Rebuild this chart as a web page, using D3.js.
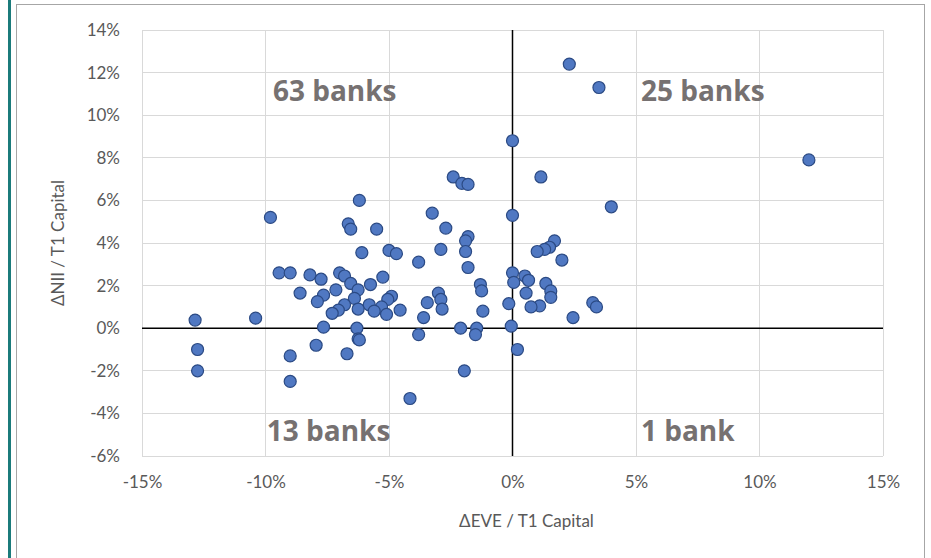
<!DOCTYPE html>
<html><head><meta charset="utf-8">
<script src="https://cdn.jsdelivr.net/npm/d3@7"></script>
<style>body{margin:0;background:#fff;}svg{display:block;}</style>
</head><body>
<svg id="c" width="931" height="558"></svg>
<script>
const xTicks = [-0.15,-0.10,-0.05,0,0.05,0.10,0.15];
const yTicks = [-0.06,-0.04,-0.02,0,0.02,0.04,0.06,0.08,0.10,0.12,0.14];
const eve = [2.3,3.5,0.0,12.0,1.15,-2.4,-2.05,-1.8,-6.2,4.0,-9.8,-3.25,0.0,-6.65,-6.55,-5.5,-2.7,-1.8,-1.9,1.7,1.5,1.3,1.0,-6.1,-5.0,-4.7,-2.9,-1.9,2.0,-3.8,-1.8,-9.45,-9.0,-8.2,-7.0,-6.8,0.0,-7.75,0.5,0.65,-6.55,-5.75,-5.25,-1.3,0.05,1.35,-8.6,-7.65,-7.15,-6.25,-4.9,-3.0,-2.9,-1.25,0.55,1.55,1.55,-7.9,-6.4,-5.05,-0.15,-3.45,-6.8,-5.8,-5.3,1.1,3.25,3.4,-7.05,-6.25,-5.6,-4.55,-2.85,-1.2,-7.3,-5.1,0.75,2.45,-12.85,-10.4,-3.6,-7.65,-6.3,-2.1,-1.45,-0.05,-3.8,-1.5,-6.25,-6.2,-7.95,-12.75,0.2,-6.7,-9.0,-12.75,-1.95,-9.0,-4.15];
const nii = [12.4,11.3,8.8,7.9,7.1,7.1,6.8,6.75,6.0,5.7,5.2,5.4,5.3,4.9,4.65,4.65,4.7,4.3,4.1,4.1,3.8,3.7,3.6,3.55,3.65,3.5,3.7,3.6,3.2,3.1,2.85,2.6,2.6,2.5,2.6,2.45,2.6,2.3,2.45,2.25,2.1,2.05,2.4,2.05,2.15,2.1,1.65,1.55,1.8,1.8,1.5,1.65,1.35,1.75,1.65,1.75,1.45,1.25,1.4,1.35,1.15,1.2,1.1,1.1,1.0,1.05,1.2,1.0,0.85,0.9,0.8,0.85,0.9,0.8,0.7,0.65,1.0,0.5,0.38,0.47,0.5,0.05,0.0,0.0,0.0,0.1,-0.3,-0.3,-0.5,-0.55,-0.8,-1.0,-1.0,-1.2,-1.3,-2.0,-2.0,-2.5,-3.3];
const quadLabels = ["63 banks","25 banks","13 banks","1 bank"];
const quadPos = [[-0.097,0.110],[0.052,0.110],[-0.0995,-0.0495],[0.052,-0.0495]];
const xTitle = "ΔEVE / T1 Capital";
const yTitle = "ΔNII / T1 Capital";

const svg = d3.select("#c");
const FONT = "Lato, 'Open Sans', sans-serif";
svg.append("rect").attr("x",8).attr("y",0).attr("width",3).attr("height",558).attr("fill","#1b7b7b");
svg.append("rect").attr("x",16.5).attr("y",4.5).attr("width",908).attr("height",560).attr("fill","#fff").attr("stroke","#a6a6a6");

const x = d3.scaleLinear().domain([-0.15,0.15]).range([142,883]);
const y = d3.scaleLinear().domain([-0.06,0.14]).range([456,30]);
const fmt = d => d3.format(".0%")(d).replace("\u2212","-");
const g = svg.append("g");
g.selectAll(".gx").data(xTicks).join("line").attr("x1",d=>x(d)).attr("x2",d=>x(d)).attr("y1",y(0.14)).attr("y2",y(-0.06)).attr("stroke","#d9d9d9").attr("stroke-width",1).attr("shape-rendering","crispEdges");
g.selectAll(".gy").data(yTicks).join("line").attr("y1",d=>y(d)).attr("y2",d=>y(d)).attr("x1",x(-0.15)).attr("x2",x(0.15)).attr("stroke","#d9d9d9").attr("stroke-width",1).attr("shape-rendering","crispEdges");
const ax = svg.append("g").attr("transform",`translate(0,${y(-0.06)})`).call(d3.axisBottom(x).tickValues(xTicks).tickFormat(fmt).tickSize(0).tickPadding(20));
const ay = svg.append("g").attr("transform",`translate(${x(-0.15)},0)`).call(d3.axisLeft(y).tickValues(yTicks).tickFormat(fmt).tickSize(0).tickPadding(22));
[ax,ay].forEach(a=>{a.select(".domain").remove();a.selectAll("text").attr("fill","#595959").style("font-family",FONT).style("font-size","17px");});
svg.append("line").attr("x1",x(-0.15)).attr("x2",x(0.15)).attr("y1",y(0)).attr("y2",y(0)).attr("stroke","#000").attr("stroke-width",1.5);
svg.append("line").attr("x1",x(0)).attr("x2",x(0)).attr("y1",y(0.14)).attr("y2",y(-0.06)).attr("stroke","#000").attr("stroke-width",1.5);
svg.selectAll(".ql").data(quadLabels).join("text").attr("x",(d,i)=>x(quadPos[i][0])).attr("y",(d,i)=>y(quadPos[i][1])).text(d=>d)
  .attr("fill","#767171").style("font-family","'Open Sans', Lato, sans-serif").style("font-weight","bold").style("font-size","28px").attr("dominant-baseline","middle");
const pts = eve.map((e,i)=>({x:e/100,y:nii[i]/100}));
svg.selectAll(".pt").data(pts).join("circle").attr("cx",d=>x(d.x)).attr("cy",d=>y(d.y)).attr("r",6)
  .attr("fill","#5078c2").attr("stroke","#2b4a84").attr("stroke-width",1.2);
svg.append("text").attr("x",x(0)+14).attr("y",527).attr("text-anchor","middle").text(xTitle).attr("fill","#595959").style("font-family",FONT).style("font-size","17px");
svg.append("text").attr("transform",`translate(64,${y(0.04)}) rotate(-90)`).attr("text-anchor","middle").text(yTitle).attr("fill","#595959").style("font-family",FONT).style("font-size","17px");
</script>
</body></html>
